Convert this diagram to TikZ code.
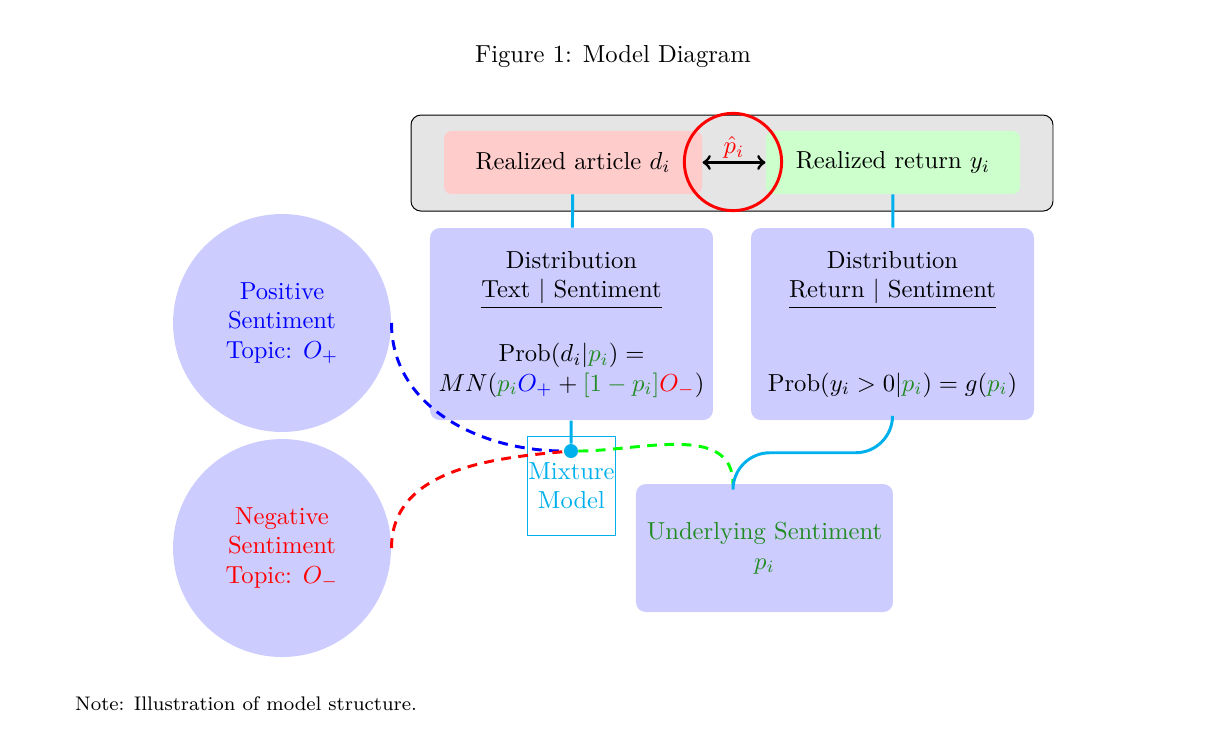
\documentclass[tikz,border=0pt]{standalone}
\usepackage{xcolor}
\definecolor{mixcyan}{RGB}{0,176,236}
\definecolor{sentgreen}{RGB}{34,139,34}
\begin{document}
\begin{tikzpicture}[
box/.style={rounded corners=4pt, fill=blue!20, align=center, inner sep=0pt},
topic/.style={circle, fill=blue!20, minimum size=3.114cm, align=center, inner sep=0pt},
link/.style={mixcyan, very thick},
mixline/.style={very thick, dash pattern=on 4pt off 3pt},
]
\useasboundingbox (0,0) rectangle (17.414,-10.671);
\node (title) at (8.757,-0.814){Figure 1: Model Diagram};
\node[anchor=west, font=\footnotesize] (note) at (0.95,-10.057){Note: Illustration of model structure.};
% observed data
\node[draw, rounded corners=4pt, fill=black!10, minimum width=9.171cm, minimum height=1.371cm] (obs) at (10.457,-2.329){};
\node[rounded corners=3pt, fill=red!20, minimum width=3.686cm, minimum height=0.9cm] (art) at (8.186,-2.321){Realized article $d_i$};
\node[rounded corners=3pt, fill=green!20, minimum width=3.629cm, minimum height=0.9cm] (ret) at (12.757,-2.321){Realized return $y_i$};
\draw[<->, very thick](art) -- node[above, red, inner sep=1pt]{$\hat{p}_i$} (ret);
\node[circle, draw=red, very thick, minimum size=1.39cm, inner sep=0pt] (phat) at (10.471,-2.314){};
% distributions
\node[box, minimum width=4.043cm, minimum height=2.743cm] (distL) at (8.164,-4.629){Distribution\\\underline{Text $|$ Sentiment}\\[2pt]\mbox{}\\Prob$(d_i|\textcolor{sentgreen}{p_i})=$\\$MN(\textcolor{sentgreen}{p_i}\textcolor{blue}{O_+}+\textcolor{sentgreen}{[1-p_i]}\textcolor{red}{O_-})$};
\node[box, minimum width=4.043cm, minimum height=2.743cm] (distR) at (12.75,-4.629){Distribution\\\underline{Return $|$ Sentiment}\\[2pt]\mbox{}\\\mbox{}\\Prob$(y_i>0|\textcolor{sentgreen}{p_i})=g(\textcolor{sentgreen}{p_i})$};
\draw[link](art) -- (distL);
\draw[link](ret) -- (distR);
% topics
\node[topic, text=blue] (pos) at (4.029,-4.614){Positive\\Sentiment\\Topic: $O_+$};
\node[topic, text=red] (neg) at (4.029,-7.829){Negative\\Sentiment\\Topic: $O_-$};
% mixture
\node[draw=mixcyan, text=mixcyan, align=center, minimum width=1.271cm, minimum height=1.414cm, inner sep=0pt] (mix) at (8.164,-6.936){Mixture\\Model};
\node[circle, fill=mixcyan, minimum size=0.2cm, inner sep=0pt] (dot) at (8.157,-6.443){};
\draw[link](distL) -- (dot);
\node[box, text=sentgreen, minimum width=3.671cm, minimum height=1.829cm] (sent) at (10.921,-7.829){Underlying Sentiment\\$p_i$};
\coordinate (sentin) at (10.471,-6.914);
\draw[blue, mixline](pos.east) to[out=-90, in=180] (dot);
\draw[red, mixline](neg.east) to[out=90, in=185] (dot);
\draw[green, mixline](dot) to[out=0, in=90] (sentin);
\draw[link, rounded corners=15pt](distR.south) -- ++(0,-0.46) -| (sentin);
\end{tikzpicture}
\end{document}
